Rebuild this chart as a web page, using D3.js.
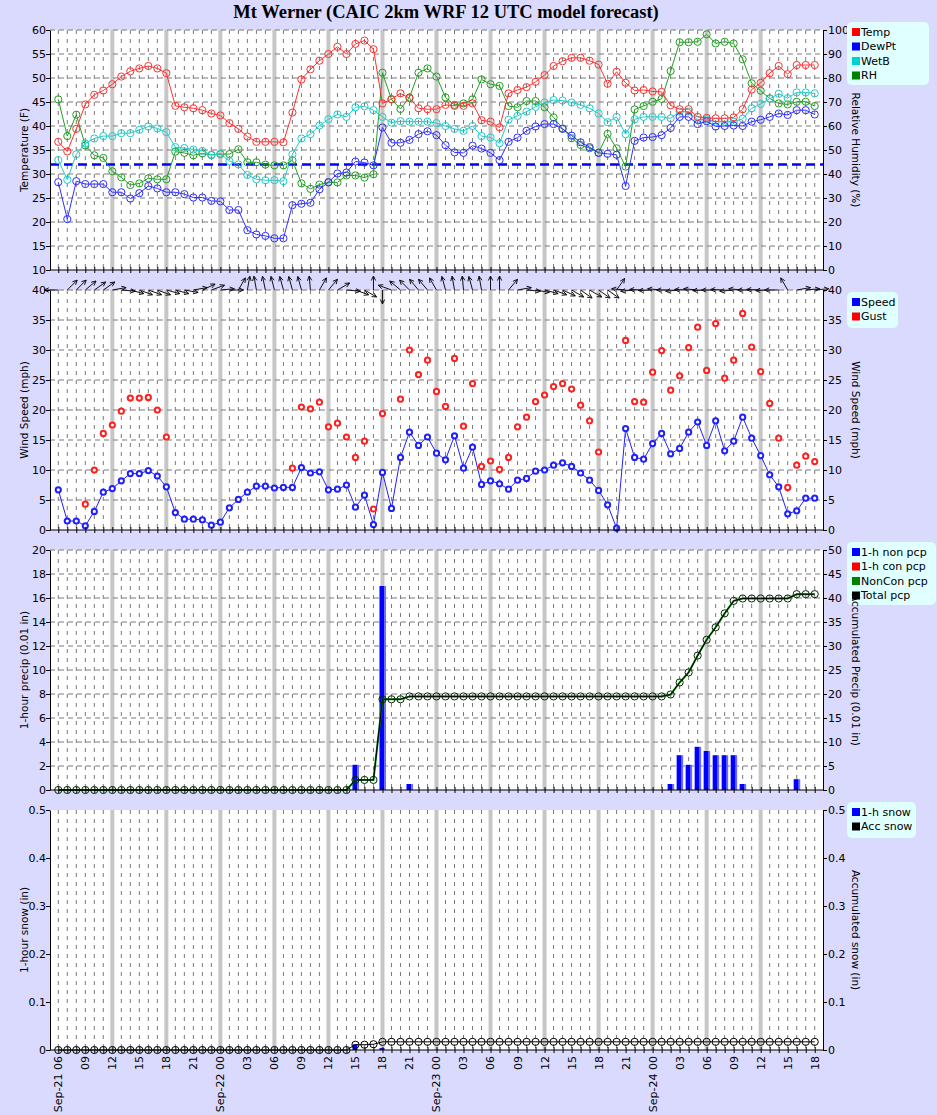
<!DOCTYPE html>
<html><head><meta charset="utf-8">
<script src="https://cdn.jsdelivr.net/npm/d3@7"></script>
<style>
body{margin:0;background:#dadafe;}
svg text{font-family:"DejaVu Sans",sans-serif;font-size:11px;fill:#000;}
</style></head><body>
<svg id="c" width="937" height="1115"></svg>
<script>
const hours = ["Sep-21 06","Sep-21 07","Sep-21 08","Sep-21 09","Sep-21 10","Sep-21 11","Sep-21 12","Sep-21 13","Sep-21 14","Sep-21 15","Sep-21 16","Sep-21 17","Sep-21 18","Sep-21 19","Sep-21 20","Sep-21 21","Sep-21 22","Sep-21 23",
"Sep-22 00","Sep-22 01","Sep-22 02","Sep-22 03","Sep-22 04","Sep-22 05","Sep-22 06","Sep-22 07","Sep-22 08","Sep-22 09","Sep-22 10","Sep-22 11","Sep-22 12","Sep-22 13","Sep-22 14","Sep-22 15","Sep-22 16","Sep-22 17","Sep-22 18","Sep-22 19","Sep-22 20","Sep-22 21","Sep-22 22","Sep-22 23",
"Sep-23 00","Sep-23 01","Sep-23 02","Sep-23 03","Sep-23 04","Sep-23 05","Sep-23 06","Sep-23 07","Sep-23 08","Sep-23 09","Sep-23 10","Sep-23 11","Sep-23 12","Sep-23 13","Sep-23 14","Sep-23 15","Sep-23 16","Sep-23 17","Sep-23 18","Sep-23 19","Sep-23 20","Sep-23 21","Sep-23 22","Sep-23 23",
"Sep-24 00","Sep-24 01","Sep-24 02","Sep-24 03","Sep-24 04","Sep-24 05","Sep-24 06","Sep-24 07","Sep-24 08","Sep-24 09","Sep-24 10","Sep-24 11","Sep-24 12","Sep-24 13","Sep-24 14","Sep-24 15","Sep-24 16","Sep-24 17","Sep-24 18"];
const xTickLabels = ["Sep-21 06","09","12","15","18","21","Sep-22 00","03","06","09","12","15","18","21","Sep-23 00","03","06","09","12","15","18","21","Sep-24 00","03","06","09","12","15","18"];
const dayLineHours = ["Sep-21 12","Sep-21 18","Sep-22 00","Sep-22 06","Sep-22 12","Sep-22 18","Sep-23 00","Sep-23 06","Sep-23 12","Sep-23 18","Sep-24 00","Sep-24 06","Sep-24 12"];

const temp = [36.7,34.7,39.4,44.5,46.5,47.4,48.7,50.3,51.4,52.0,52.5,52.0,51.0,44.2,43.9,43.7,43.3,42.6,42.2,40.6,39.4,37.8,36.7,36.7,36.7,36.6,42.8,49.7,51.8,53.6,55.0,56.5,55.0,57.1,57.8,56.0,44.7,45.6,46.8,45.8,43.7,43.5,43.5,44.4,44.2,44.2,44.7,41.2,40.9,39.7,46.8,47.5,48.1,49.2,50.6,52.5,53.5,54.2,54.2,53.6,52.8,48.8,51.3,49.0,47.4,47.5,47.2,47.1,44.3,43.5,43.5,41.9,41.7,41.6,41.6,41.8,43.5,47.6,49.0,51.0,52.5,50.8,52.7,52.7,52.7];
const dewpt = [28.3,20.6,28.5,27.9,27.9,27.9,26.2,26.2,24.9,26.0,27.5,27.0,26.2,26.2,25.8,25.1,25.1,24.4,24.3,22.5,22.5,18.3,17.4,17.1,16.6,16.6,23.5,23.8,24.0,26.8,28.3,30.1,30.3,32.6,32.4,31.8,39.7,36.5,36.5,37.1,38.3,38.9,38.1,36.0,34.5,34.4,35.9,35.3,34.4,32.9,36.7,37.6,39.0,39.9,40.4,40.4,39.4,38.0,36.6,35.6,34.4,34.2,34.0,27.5,36.9,37.6,37.7,38.1,39.6,41.9,41.9,40.4,41.0,39.9,40.0,40.1,40.0,40.9,41.3,41.9,42.6,42.3,43.3,43.3,42.4];
const wetb = [32.9,28.8,34.1,36.4,37.4,37.9,37.9,38.5,38.5,39.2,39.9,39.5,38.7,35.6,35.4,35.1,34.8,34.0,34.2,32.7,32.0,29.8,28.9,28.7,28.7,28.5,34.1,37.4,38.3,40.1,41.4,42.4,41.9,43.9,44.1,43.3,41.9,40.7,41.0,40.9,40.9,40.9,40.6,40.0,39.4,39.0,40.0,37.9,37.6,36.4,41.3,42.1,43.0,44.0,44.9,45.4,45.3,44.9,44.4,43.7,42.6,40.8,41.9,38.3,41.4,41.9,41.9,41.9,41.6,43.0,43.0,41.3,41.4,40.9,40.9,40.9,41.5,43.7,44.6,45.7,46.7,45.8,47.0,47.0,46.8];
const rh = [71.1,55.8,64.7,51.9,47.8,46.7,41.1,38.6,35.4,36.1,38.2,37.8,37.8,49.3,48.8,47.8,48.6,47.9,48.3,48.3,50.3,44.9,44.9,43.9,43.6,43.6,45.7,36.1,33.8,35.6,36.5,36.5,39.4,39.4,38.5,39.9,82.2,71.1,67.1,71.9,82.2,84.0,80.6,71.9,68.8,69.4,71.1,79.4,77.4,76.7,68.3,67.8,70.4,70.4,67.8,63.6,59.0,54.9,52.1,50.7,48.9,56.7,50.7,43.1,66.9,68.3,70.1,71.3,82.9,94.9,94.9,95.1,98.2,94.4,95.1,94.4,87.8,77.8,74.7,71.5,69.4,69.0,70.1,70.1,68.3];
const freezingLine = [32];

const speed = [6.7,1.5,1.5,0.7,3.1,6.3,6.9,8.2,9.4,9.4,9.9,9.0,7.2,2.9,1.8,1.8,1.7,0.8,1.3,3.7,5.1,6.3,7.3,7.3,7.0,7.1,7.1,10.4,9.5,9.7,6.7,6.8,7.5,3.8,5.8,0.9,9.6,3.6,12.1,16.3,14.1,15.5,12.8,11.7,15.7,10.3,13.8,7.6,8.2,7.7,6.8,8.3,8.6,9.8,10.0,10.8,11.2,10.6,9.5,8.3,6.6,4.2,0.3,16.9,12.1,11.8,14.4,16.1,12.7,13.6,16.3,18.0,14.1,18.2,13.2,14.8,18.8,15.3,12.4,9.2,7.2,2.7,3.2,5.3,5.3];
const gust = [null,null,null,4.3,10.0,16.1,17.5,19.8,22.0,22.0,22.1,20.0,15.5,null,null,null,null,null,null,null,null,null,null,null,null,null,10.3,20.5,20.2,21.3,17.2,17.8,15.5,12.1,14.8,3.5,19.4,null,21.8,30.0,25.9,28.3,23.1,20.6,28.6,17.3,24.4,10.6,11.5,10.1,12.1,17.2,18.8,21.4,22.5,23.9,24.4,23.5,20.8,18.2,13.0,null,null,31.6,21.4,21.3,26.3,29.9,23.3,25.7,30.4,33.8,26.6,34.4,25.3,28.3,36.1,30.5,26.4,21.1,15.3,7.1,10.8,12.3,11.4];
const windDir = [90,225,225,230,235,235,260,275,285,290,290,290,285,285,280,260,245,250,265,270,210,190,170,168,166,165,165,165,175,210,220,240,275,290,300,180,0,110,130,135,140,140,150,165,170,175,165,170,180,180,220,260,275,280,285,290,295,300,305,300,305,305,215,95,85,92,88,95,90,85,92,95,88,90,92,85,95,90,92,88,90,150,260,265,265];

const precip1h = [0,0,0,0,0,0,0,0,0,0,0,0,0,0,0,0,0,0,0,0,0,0,0,0,0,0,0,0,0,0,0,0,0,2.1,0,0,17.0,0,0,0.5,0,0,0,0,0,0,0,0,0,0,0,0,0,0,0,0,0,0,0,0,0,0,0,0,0,0,0,0,0.5,2.9,2.1,3.6,3.25,2.9,2.9,2.9,0.5,0,0,0,0,0,0.9,0,0];
const conPrecip1h = [0,0,0,0,0,0,0,0,0,0,0,0,0,0,0,0,0,0,0,0,0,0,0,0,0,0,0,0,0,0,0,0,0,0,0,0,0,0,0,0,0,0,0,0,0,0,0,0,0,0,0,0,0,0,0,0,0,0,0,0,0,0,0,0,0,0,0,0,0,0,0,0,0,0,0,0,0,0,0,0,0,0,0,0,0];
const precipAcc = [0,0,0,0,0,0,0,0,0,0,0,0,0,0,0,0,0,0,0,0,0,0,0,0,0,0,0,0,0,0,0,0,0,2.1,2.1,2.1,18.9,18.9,18.9,19.5,19.5,19.5,19.5,19.5,19.5,19.5,19.5,19.5,19.5,19.5,19.5,19.5,19.5,19.5,19.5,19.5,19.5,19.5,19.5,19.5,19.5,19.5,19.5,19.5,19.5,19.5,19.5,19.5,19.9,22.4,24.5,28.0,31.3,33.9,36.8,39.4,39.9,39.9,39.9,39.9,39.9,39.9,40.8,40.8,40.8];

const snow1h = [0,0,0,0,0,0,0,0,0,0,0,0,0,0,0,0,0,0,0,0,0,0,0,0,0,0,0,0,0,0,0,0,0,0.012,0,0,0.004,0,0,0,0,0,0,0,0,0,0,0,0,0,0,0,0,0,0,0,0,0,0,0,0,0,0,0,0,0,0,0,0,0,0,0,0,0,0,0,0,0,0,0,0,0,0,0,0];
const snowAcc = [0,0,0,0,0,0,0,0,0,0,0,0,0,0,0,0,0,0,0,0,0,0,0,0,0,0,0,0,0,0,0,0,0,0.011,0.011,0.012,0.017,0.017,0.017,0.017,0.017,0.017,0.017,0.017,0.017,0.017,0.017,0.017,0.017,0.017,0.017,0.017,0.017,0.017,0.017,0.017,0.017,0.017,0.017,0.017,0.017,0.017,0.017,0.017,0.017,0.017,0.017,0.017,0.017,0.017,0.017,0.017,0.017,0.017,0.017,0.017,0.017,0.017,0.017,0.017,0.017,0.017,0.017,0.017,0.017];

const tempTicks = [10,15,20,25,30,35,40,45,50,55,60];
const rhTicks = [0,10,20,30,40,50,60,70,80,90,100];
const windTicks = [0,5,10,15,20,25,30,35,40];
const precipTicks = [0,2,4,6,8,10,12,14,16,18,20];
const precipAccTicks = [0,5,10,15,20,25,30,35,40,45,50];
const snowTicks = [0,0.1,0.2,0.3,0.4,0.5];

const svg = d3.select("#c");
const x = d3.scaleLinear().domain([-0.92, 84.92]).range([50, 823]);
const idx = hours.map((h,i)=>i);
const L = 50, R = 823;
const titles = [];

svg.append("text").attr("x",446).attr("y",18).attr("text-anchor","middle")
  .style("font-family","'Liberation Serif',serif").style("font-weight","bold").style("font-size","18.5px")
  .text("Mt Werner (CAIC 2km WRF 12 UTC model forecast)");

function panel(top, bottom, yL, leftTicks, hgrid) {
  const g = svg.append("g");
  g.append("rect").attr("x",L).attr("y",top).attr("width",R-L).attr("height",bottom-top).attr("fill","#fff");
  idx.forEach(i=>{
    const gray = dayLineHours.includes(hours[i]);
    g.append("line").attr("x1",x(i)).attr("x2",x(i)).attr("y1",top).attr("y2",bottom)
      .attr("stroke", gray ? "#c6c6c6" : "#7a7a7a")
      .attr("stroke-width", gray ? 4 : 1)
      .attr("stroke-dasharray", gray ? null : "4,5");
  });
  if (hgrid) leftTicks.slice(1).forEach(t=>{
    g.append("line").attr("x1",L).attr("x2",R).attr("y1",yL(t)).attr("y2",yL(t))
      .attr("stroke","#7a7a7a").attr("stroke-dasharray","5,4");
  });
  return g;
}
function axes(top,bottom,yL,yR,leftTicks,rightTicks,leftTitle,rightTitle){
  const g = svg.append("g");
  const la = g.append("g").attr("transform",`translate(${L},0)`)
    .call(d3.axisLeft(yL).tickValues(leftTicks).tickSize(4).tickSizeOuter(0).tickPadding(0).tickFormat(d3.format("")));
  const ra = g.append("g").attr("transform",`translate(${R},0)`)
    .call(d3.axisRight(yR).tickValues(rightTicks).tickSize(4).tickSizeOuter(0).tickPadding(1).tickFormat(d3.format("")));
  const ba = g.append("g").attr("transform",`translate(0,${bottom})`)
    .call(d3.axisBottom(x).tickValues(idx).tickSize(3).tickSizeOuter(0).tickFormat(""));
  const ta = g.append("g").attr("transform",`translate(0,${bottom})`)
    .call(d3.axisTop(x).tickValues(idx).tickSize(3).tickSizeOuter(0).tickFormat(""));
  ta.select(".domain").remove();
  ba.select(".domain").attr("d",`M${L},0H${R}`);
  [la,ra,ba,ta].forEach(a=>{a.selectAll("text").style("font-size","11px").style("font-family","'DejaVu Sans',sans-serif");
    a.selectAll("line,path").attr("stroke","#000");});
  const mid = (top+bottom)/2;
  g.append("text").attr("transform",`translate(28,${mid}) rotate(-90)`).attr("text-anchor","middle").style("font-size","10.5px").text(leftTitle);
  titles.push(g.append("text").attr("transform",`translate(852,${mid}) rotate(90)`).attr("text-anchor","middle").style("font-size","10.5px").text(rightTitle));
}
function legend(x0,y0,w,h,items){
  const g = svg.append("g");
  g.append("rect").attr("x",x0).attr("y",y0).attr("width",w).attr("height",h).attr("rx",5).attr("fill","#e0ffff");
  items.forEach((it,k)=>{
    const cy = y0+10+k*14.5;
    g.append("rect").attr("x",x0+5).attr("y",cy-4).attr("width",8).attr("height",8).attr("fill",it.c);
    g.append("text").attr("x",x0+14).attr("y",cy).attr("dy","0.36em").text(it.t);
  });
}
function series(data, y, color, r, sw, fill, withLine){
  const pts = idx.filter(i=>data[i]!==null);
  if (withLine) svg.append("path").attr("d", d3.line().x(i=>x(i)).y(i=>y(data[i]))(pts))
    .attr("fill","none").attr("stroke",color).attr("stroke-width",1);
  svg.append("g").selectAll("circle").data(pts).join("circle")
    .attr("cx",i=>x(i)).attr("cy",i=>y(data[i])).attr("r",r)
    .attr("fill",fill).attr("stroke",color).attr("stroke-width",sw);
}

// ---------- Panel 1 : temperatures ----------
const yT = d3.scaleLinear().domain([10,60]).range([270,30]);
const yRH = d3.scaleLinear().domain([0,100]).range([270,30]);
panel(30,270,yT,tempTicks,true);
svg.append("line").attr("x1",L).attr("x2",R).attr("y1",yT(freezingLine[0])).attr("y2",yT(freezingLine[0]))
  .attr("stroke","#0000ff").attr("stroke-width",2.5).attr("stroke-dasharray","9,5");
series(rh, yRH, "#22a022", 3.6, 1, "none", true);
series(wetb, yT, "#22caca", 3.6, 1, "none", true);
series(dewpt, yT, "#3030ff", 3.6, 1, "none", true);
series(temp, yT, "#ff3030", 3.6, 1, "none", true);
axes(30,270,yT,yRH,tempTicks,rhTicks,"Temperature (F)","Relative Humidity (%)");
legend(847,22,82,63,[{t:"Temp",c:"#ff0000"},{t:"DewPt",c:"#0000ff"},{t:"WetB",c:"#00d0d0"},{t:"RH",c:"#008000"}]);

// ---------- Panel 2 : wind ----------
const yW = d3.scaleLinear().domain([0,40]).range([530,290]);
panel(290,530,yW,windTicks,true);
series(speed, yW, "#2020ff", 2.6, 2, "#fff", true);
series(gust, yW, "#ff2020", 2.6, 2, "#fff", false);
const arrowLen = 14, headLen = 5;
idx.forEach(i=>{
  const toRad = ((windDir[i]+180)%360)*Math.PI/180;
  const x0 = x(i), y0 = yW(40);
  const x1 = x0 + Math.sin(toRad)*arrowLen, y1 = y0 - Math.cos(toRad)*arrowLen;
  const back = Math.atan2(y0-y1, x0-x1);
  const a1 = back + 0.45, a2 = back - 0.45;
  const d = `M${x0},${y0}L${x1},${y1}M${x1+Math.cos(a1)*headLen},${y1+Math.sin(a1)*headLen}L${x1},${y1}L${x1+Math.cos(a2)*headLen},${y1+Math.sin(a2)*headLen}`;
  svg.append("path").attr("d",d).attr("fill","none").attr("stroke","#111").attr("stroke-width",1);
});
axes(290,530,yW,yW,windTicks,windTicks,"Wind Speed (mph)","Wind Speed (mph)");
legend(847,292,51,36,[{t:"Speed",c:"#0000ff"},{t:"Gust",c:"#ff0000"}]);

// ---------- Panel 3 : precip ----------
const yP = d3.scaleLinear().domain([0,20]).range([790,550]);
const yPA = d3.scaleLinear().domain([0,50]).range([790,550]);
panel(550,790,yP,precipTicks,true);
const pb = idx.filter(i=>precip1h[i]>0);
svg.append("g").selectAll("rect").data(pb).join("rect")
  .attr("x",i=>x(i)-3).attr("width",5).attr("y",i=>yP(precip1h[i])).attr("height",i=>790-yP(precip1h[i])).attr("fill","#0000ff");
svg.append("g").selectAll("rect").data(pb).join("rect")
  .attr("x",i=>x(i)+2).attr("width",1.5).attr("y",i=>yP(precip1h[i])).attr("height",i=>790-yP(precip1h[i])).attr("fill","#6a6aff");
const cb = idx.filter(i=>conPrecip1h[i]>0);
svg.append("g").selectAll("rect").data(cb).join("rect")
  .attr("x",i=>x(i)-3).attr("width",5).attr("y",i=>yP(conPrecip1h[i])).attr("height",i=>790-yP(conPrecip1h[i])).attr("fill","#ff0000");
svg.append("path").attr("d",d3.line().x(i=>x(i)).y(i=>yPA(precipAcc[i]))(idx)).attr("fill","none").attr("stroke","#008000").attr("stroke-width",2);
svg.append("path").attr("d",d3.line().x(i=>x(i)).y(i=>yPA(precipAcc[i]))(idx)).attr("fill","none").attr("stroke","#000").attr("stroke-width",1);
svg.append("g").selectAll("circle").data(idx).join("circle")
  .attr("cx",i=>x(i)).attr("cy",i=>yPA(precipAcc[i])).attr("r",3.6).attr("fill","none").attr("stroke","#0a280a").attr("stroke-width",1);
axes(550,790,yP,yPA,precipTicks,precipAccTicks,"1-hour precip (0.01 in)","Accumulated Precip (0.01 in)");
legend(847,542,89,63,[{t:"1-h non pcp",c:"#0000ff"},{t:"1-h con pcp",c:"#ff0000"},{t:"NonCon pcp",c:"#008000"},{t:"Total pcp",c:"#000000"}]);

// ---------- Panel 4 : snow ----------
const yS = d3.scaleLinear().domain([0,0.5]).range([1050,810]);
panel(810,1050,yS,snowTicks,false);
const sb = idx.filter(i=>snow1h[i]>0);
svg.append("g").selectAll("rect").data(sb).join("rect")
  .attr("x",i=>x(i)-3).attr("width",5).attr("y",i=>yS(snow1h[i])).attr("height",i=>1050-yS(snow1h[i])).attr("fill","#0000ff");
svg.append("path").attr("d",d3.line().x(i=>x(i)).y(i=>yS(snowAcc[i]))(idx)).attr("fill","none").attr("stroke","#000").attr("stroke-width",1);
svg.append("g").selectAll("circle").data(idx).join("circle")
  .attr("cx",i=>x(i)).attr("cy",i=>yS(snowAcc[i])).attr("r",3.6).attr("fill","none").attr("stroke","#000").attr("stroke-width",1);
axes(810,1050,yS,yS,snowTicks,snowTicks,"1-hour snow (in)","Accumulated snow (in)");
legend(847,802,69,36,[{t:"1-h snow",c:"#0000ff"},{t:"Acc snow",c:"#000000"}]);

// right axis titles drawn above the legends
titles.forEach(t=>svg.node().appendChild(t.node()));

xTickLabels.forEach((t,k)=>{
  const i = k*3;
  svg.append("text").attr("transform",`translate(${x(i)},1056) rotate(-90)`).attr("text-anchor","end").attr("dy","0.36em").text(t);
});
</script>
</body></html>
